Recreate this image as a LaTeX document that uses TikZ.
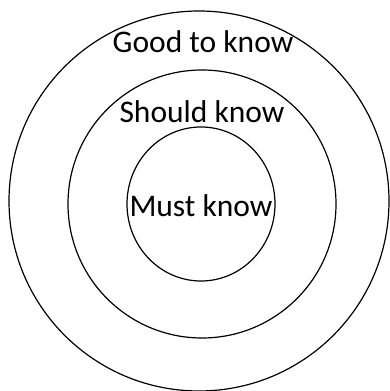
\documentclass[tikz,border=0pt]{standalone}
\usepackage{fontspec}
\setmainfont{Carlito}
\usepackage{tikz}
\usetikzlibrary{shapes}

\begin{document}
\begin{tikzpicture}[x=1pt, y=1pt,
      ring/.style={draw, line width=1.2pt, inner sep=0pt, outer sep=0pt},
      label text/.style={anchor=base, inner sep=0pt, font=\fontsize{31.5}{36}\selectfont}]
      \useasboundingbox (0,0) rectangle (390,391);
      % rings, outermost first
      \node[ring, circle, minimum size=380pt] (good) at (199,190) {};
      \node[ring, circle, minimum size=268pt] (should) at (202,187) {};
      \node[ring, ellipse, minimum width=148pt, minimum height=154pt] (must) at (201,187) {};
      % labels
      \node[label text] (goodtext) at (203,338) {Good to know};
      \node[label text] (shouldtext) at (202,268) {Should know};
      \node[label text] (musttext) at (201,174) {Must know};
    \end{tikzpicture}
\end{document}
